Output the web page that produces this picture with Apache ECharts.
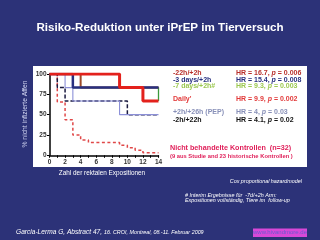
<!DOCTYPE html>
<html>
<head>
<meta charset="utf-8">
<script src="https://cdn.jsdelivr.net/npm/echarts@6/dist/echarts.min.js"></script>
<style>
  html, body { margin: 0; padding: 0; background: #2c3278; }
  #chart { width: 320px; height: 240px; }
</style>
</head>
<body>
<div id="chart"></div>
<script>
// Kaplan-Meier Stufen: Expositionsnummer, % nicht infiziert
const ctrlX = [0, 1, 2, 3, 4, 5, 9, 10, 11, 12, 14];
const ctrlY = [100, 65.6, 43.8, 25, 18.8, 15.6, 12.5, 9.4, 6.3, 3.1, 3.1];
const preExpX = [0, 1, 2, 10, 14];          // -2h/+22h
const preExpY = [100, 83.3, 66.7, 50, 50];
const pepX = [0, 2, 3, 9, 14];              // +2h/+26h (PEP)
const pepY = [100, 83.3, 66.7, 50, 50];
const d7X = [0, 3, 14];                     // -7 days/+2h
const d7Y = [100, 83.3, 66.7];
const h22X = [0, 4, 14];                    // -22h/+2h
const h22Y = [100, 83.3, 83.3];
const d3X = [0, 3, 14];                     // -3 days/+2h
const d3Y = [100, 83.3, 83.3];
const dailyX = [0, 9, 12, 14];              // Daily
const dailyY = [100, 83.3, 66.7, 66.7];

const xTicks = [0, 2, 4, 6, 8, 10, 12, 14];
const yTicks = [0, 25, 50, 75, 100];

const legendLabels = ['-22h/+2h', '-3 days/+2h', '-7 days/+2h#', "Daily'", '+2h/+26h (PEP)', '-2h/+22h'];
const hrValues = ['16.7', '15.4', '9.3', '9.9', '4', '4.1'];
const pValues = ['0.006', '0.008', '0.003', '0.002', '0.03', '0.02'];

const FONT = '"Liberation Sans", Arial, sans-serif';
const textColors = ['#b8302c', '#283080', '#9cc850', '#e23a3a', '#8890b8', '#111111'];
const rowY = [73.5, 80, 86.3, 99, 112.5, 120.3];

const pairs = (xs, ys) => xs.map((x, i) => [x, ys[i]]);

function stepSeries(name, xs, ys, color, width, dash) {
  return {
    name: name,
    type: 'line',
    step: 'end',
    data: pairs(xs, ys),
    showSymbol: false,
    silent: true,
    lineStyle: { color: color, width: width, type: dash || 'solid' }
  };
}

const graphics = [
  { type: 'rect', z: -10, shape: { x: 33, y: 66, width: 274, height: 101 }, style: { fill: '#ffffff' } },
  { type: 'text', x: 160, y: 28, z: 10,
    style: { text: 'Risiko-Reduktion unter iPrEP im Tierversuch', fill: '#ffffff',
      font: 'bold 11.6px ' + FONT, textAlign: 'center', textVerticalAlign: 'middle' } },
  { type: 'text', x: 25, y: 114, rotation: Math.PI / 2, z: 10,
    style: { text: '% nicht infizierte Affen', fill: '#d4d8f4',
      font: '6.8px ' + FONT, textAlign: 'center', textVerticalAlign: 'middle' } },
  { type: 'text', x: 102, y: 173, z: 10,
    style: { text: 'Zahl der rektalen Expositionen', fill: '#ffffff',
      font: '6.4px ' + FONT, textAlign: 'center', textVerticalAlign: 'middle' } },
  { type: 'text', x: 170, y: 148.3, z: 10,
    style: { text: 'Nicht behandelte Kontrollen  (n=32)', fill: '#e0205a',
      font: 'bold 7.2px ' + FONT, textVerticalAlign: 'middle' } },
  { type: 'text', x: 170, y: 156.7, z: 10,
    style: { text: '(9 aus Studie and 23 historische Kontrollen )', fill: '#e0205a',
      font: 'bold 5.8px ' + FONT, textVerticalAlign: 'middle' } },
  { type: 'text', x: 302, y: 181, z: 10,
    style: { text: 'Cox proportional hazardmodel', fill: '#ffffff',
      font: 'italic 5.4px ' + FONT, textAlign: 'right', textVerticalAlign: 'middle' } },
  { type: 'text', x: 185, y: 195, z: 10,
    style: { text: '# Interim Ergebnisse für  -7d/+2h Arm:', fill: '#ffffff',
      font: 'italic 5.4px ' + FONT, textVerticalAlign: 'middle' } },
  { type: 'text', x: 185, y: 200.5, z: 10,
    style: { text: 'Expositionen vollständig, Tiere im  follow-up', fill: '#ffffff',
      font: 'italic 5.4px ' + FONT, textVerticalAlign: 'middle' } },
  { type: 'text', x: 16, y: 232, z: 10,
    style: { text: '{a|Garcia-Lerma G, Abstract 47, }{b|16. CROI, Montreal, 08.-11. Februar 2009}',
      textVerticalAlign: 'middle',
      rich: {
        a: { fill: '#ffffff', font: 'italic 6.6px ' + FONT },
        b: { fill: '#ffffff', font: 'italic 5.4px ' + FONT }
      } } },
  { type: 'rect', z: 5, shape: { x: 253, y: 228.5, width: 54, height: 8.5 }, style: { fill: '#d848d8' } },
  { type: 'text', x: 280, y: 232.8, z: 10,
    style: { text: 'www.hivandmore.de', fill: '#6a5ad0',
      font: '6px ' + FONT, textAlign: 'center', textVerticalAlign: 'middle' } }
];

legendLabels.forEach(function (label, i) {
  graphics.push({ type: 'text', x: 173, y: rowY[i], z: 10,
    style: { text: label, fill: textColors[i], font: 'bold 7px ' + FONT, textVerticalAlign: 'middle' } });
  graphics.push({ type: 'text', x: 236, y: rowY[i], z: 10,
    style: { text: '{n|HR = ' + hrValues[i] + ', }{i|p}{n| = ' + pValues[i] + '}',
      textVerticalAlign: 'middle',
      rich: {
        n: { fill: textColors[i], font: 'bold 7px ' + FONT },
        i: { fill: textColors[i], font: 'italic bold 7px ' + FONT }
      } } });
});

const option = {
  backgroundColor: '#2c3278',
  animation: false,
  grid: { left: 49.5, right: 161.5, top: 74, bottom: 84.7 },
  xAxis: {
    type: 'value', min: 0, max: 14, interval: 1,
    axisLine: { show: true, lineStyle: { color: '#000', width: 1.5 } },
    axisTick: { show: true, length: 2.5, lineStyle: { color: '#000', width: 1 } },
    splitLine: { show: false },
    axisLabel: {
      margin: 3, color: '#333', fontSize: 6.5, fontWeight: 'bold', fontFamily: FONT,
      formatter: function (v) { return xTicks.indexOf(v) >= 0 ? String(v) : ''; }
    }
  },
  yAxis: {
    type: 'value', min: 0, max: 100, interval: 25,
    axisLine: { show: true, lineStyle: { color: '#000', width: 1.5 } },
    axisTick: { show: true, length: 2.5, lineStyle: { color: '#000', width: 1 } },
    splitLine: { show: false },
    axisLabel: {
      margin: 3, color: '#333', fontSize: 6.5, fontWeight: 'bold', fontFamily: FONT,
      formatter: function (v) { return yTicks.indexOf(v) >= 0 ? String(v) : ''; }
    }
  },
  series: [
    stepSeries('Kontrollen', ctrlX, ctrlY, '#e04848', 1.5, [3, 2.5]),
    stepSeries('-2h/+22h', preExpX, preExpY, '#1a1a40', 1.5, [4, 2]),
    stepSeries('PEP', pepX, pepY, '#8c90d8', 1.1),
    stepSeries('-7 days', d7X, d7Y, '#3c9a3c', 1.3),
    stepSeries('-22h', h22X, h22Y, '#9c4a2a', 2),
    stepSeries('-3 days', d3X, d3Y, '#283080', 2.5),
    stepSeries('Daily', dailyX, dailyY, '#e3211c', 3)
  ],
  graphic: graphics
};

const chart = echarts.init(document.getElementById('chart'));
chart.setOption(option);
</script>
</body>
</html>
